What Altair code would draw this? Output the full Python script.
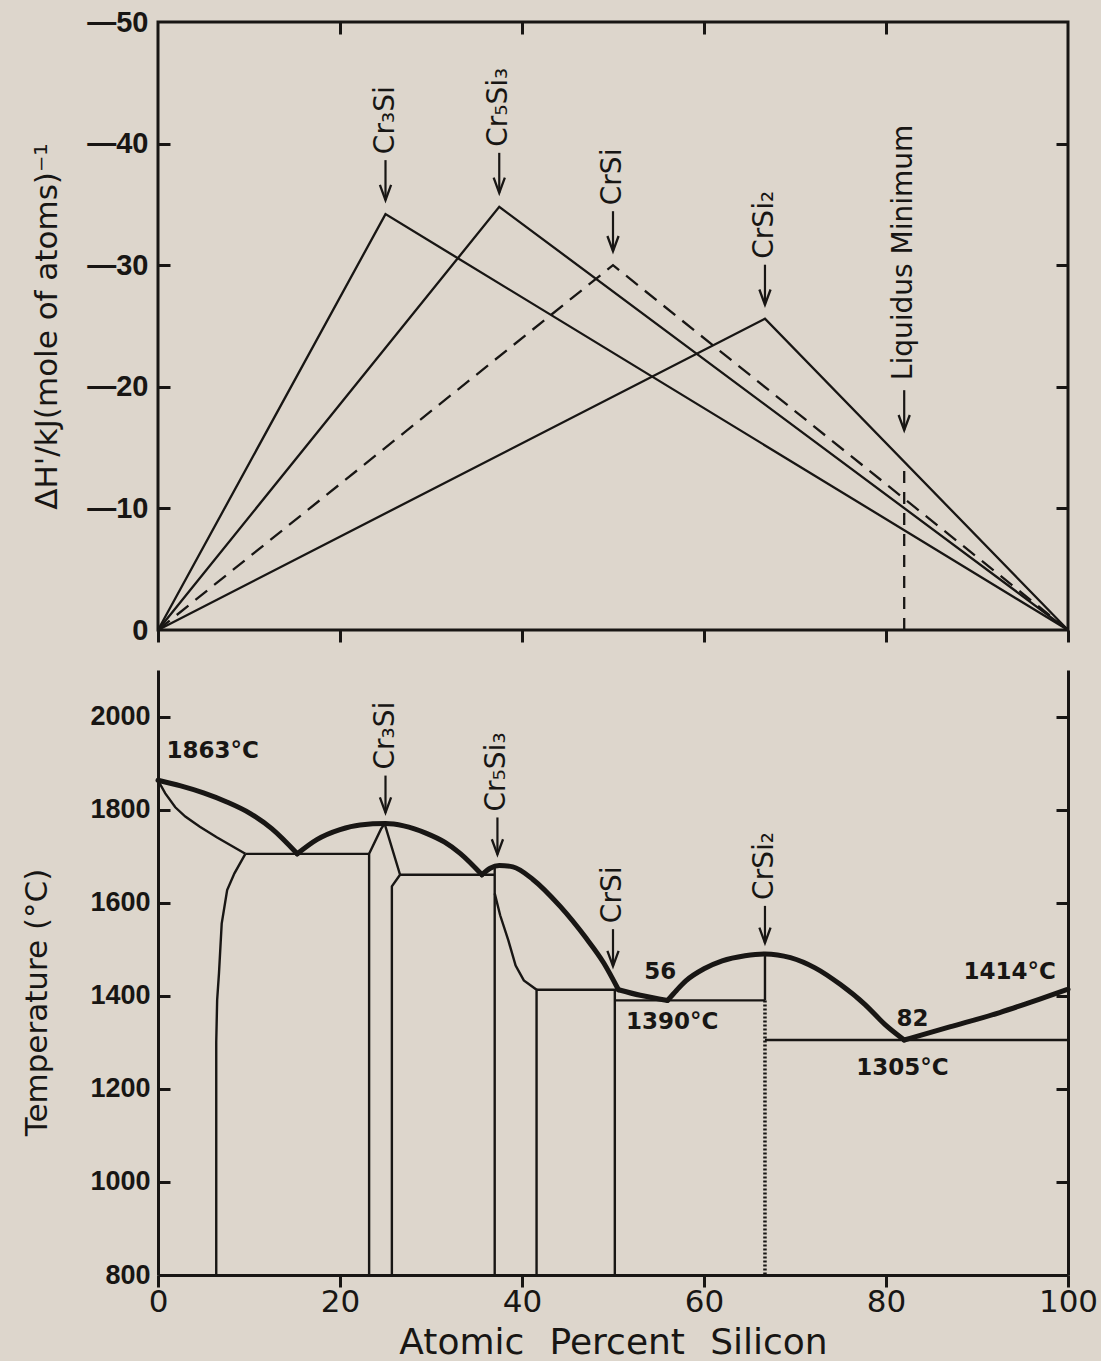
import altair as alt
import pandas as pd

INK = "#181614"
PAPER = "#ddd6cc"
TICK = 12

# ---------------- upper panel: enthalpy of formation ----------------
compounds = ["Cr₃Si", "Cr₅Si₃", "CrSi", "CrSi₂"]
compound_si = [25.0, 37.5, 50.0, 66.7]          # at.% Si
formation_dh = [-34.2, -34.8, -30.0, -25.6]     # kJ per mole of atoms
compound_dashed = [False, False, True, False]
liquidus_min_si = 82.0
liquidus_min_dh = -13.8
dh_ticks = [-50, -40, -30, -20, -10, 0]
dh_inner_ticks = [-40, -30, -20, -10]

# ---------------- lower panel: Cr-Si phase diagram ----------------
si_ticks = [0, 20, 40, 60, 80, 100]
si_inner_ticks = [20, 40, 60, 80]
temp_ticks = [800, 1000, 1200, 1400, 1600, 1800, 2000]
temp_inner_ticks = [1000, 1200, 1400, 1600, 1800, 2000]

liquidus_arcs = [
    ([0, 2.5, 5, 7.5, 10.2, 12.5, 15.3],
     [1863, 1851, 1836, 1817, 1791, 1759, 1705]),
    ([15.3, 17.5, 20, 22.2, 25, 27, 29.5, 31.5, 33.2, 35.6],
     [1705, 1736, 1757, 1767, 1770, 1765, 1749, 1730, 1706, 1660]),
    ([35.6, 36.5, 37.5, 39, 41.2, 44.2, 47, 49, 50.6],
     [1660, 1674, 1680, 1677, 1650, 1592, 1525, 1470, 1413]),
    ([50.6, 53, 56], [1413, 1401, 1390]),
    ([56, 57, 58, 60, 62, 64.5, 66.7, 69.5, 72.2, 75, 77.7, 79.9, 82],
     [1390, 1412, 1432, 1458, 1475, 1486, 1490, 1482, 1460, 1424, 1381, 1338, 1305]),
    ([82, 87, 92.5, 96.9, 100], [1305, 1333, 1364, 1393, 1414]),
]

phase_boundaries = [
    ([0, 0.8, 1.9, 3.0, 4.6, 6.5, 9.6], [1863, 1835, 1805, 1785, 1763, 1740, 1705]),
    ([9.6, 8.4, 7.6, 7.0, 6.7, 6.5, 6.4, 6.4], [1705, 1663, 1627, 1555, 1448, 1391, 1300, 800]),
    ([9.6, 23.2], [1705, 1705]),
    ([23.2, 23.2, 24.5, 24.9], [800, 1705, 1758, 1770]),
    ([24.9, 26.6, 25.7, 25.7], [1770, 1660, 1635, 800]),
    ([26.6, 37.0], [1660, 1660]),
    ([37.0, 37.0], [1678, 800]),
    ([37.0, 37.6, 38.5, 39.3, 40.2, 41.6, 41.6], [1620, 1573, 1519, 1465, 1433, 1413, 800]),
    ([41.6, 50.6], [1413, 1413]),
    ([50.2, 50.2], [1413, 800]),
    ([50.2, 66.7], [1390, 1390]),
    ([66.7, 66.7], [1490, 1390]),
    ([66.7, 100], [1305, 1305]),
]
crsi2_dotted = ([66.7, 66.7], [1390, 800])

phase_marks = ["Cr₃Si", "Cr₅Si₃", "CrSi", "CrSi₂"]
phase_mark_si = [25.0, 37.3, 50.0, 66.7]
phase_mark_t = [1770, 1680, 1440, 1490]

point_labels = ["1863°C", "56", "1390°C", "82", "1305°C", "1414°C"]
point_label_si = [6.0, 55.2, 56.5, 82.9, 81.8, 93.6]
point_label_t = [1925, 1452, 1344, 1350, 1245, 1452]


def polylines(lines):
    rows = []
    for k, (xs, ys) in enumerate(lines):
        for i, (x, y) in enumerate(zip(xs, ys)):
            rows.append({"seg": k, "i": i, "si": x, "v": y})
    return pd.DataFrame(rows)


top_rows = []
for name, si, dh, dashed in zip(compounds, compound_si, formation_dh, compound_dashed):
    for i, (x, y) in enumerate([(0, 0), (si, dh), (100, 0)]):
        top_rows.append({"seg": name, "i": i, "si": x, "v": y, "dashed": dashed})
top_df = pd.DataFrame(top_rows)
solid_df = top_df[~top_df["dashed"]]
dashed_df = top_df[top_df["dashed"]]
liqmin_df = pd.DataFrame({"si": [liquidus_min_si, liquidus_min_si],
                          "v": [0, liquidus_min_dh], "i": [0, 1]})
peaks_df = pd.DataFrame({"name": compounds, "si": compound_si, "v": formation_dh})
liqmin_label_df = pd.DataFrame({"name": ["Liquidus Minimum"], "si": [liquidus_min_si],
                                "v": [liquidus_min_dh]})

liq_df = polylines(liquidus_arcs)
bnd_df = polylines(phase_boundaries)
dot_df = polylines([crsi2_dotted])
marks_df = pd.DataFrame({"name": phase_marks, "si": phase_mark_si, "v": phase_mark_t})
notes_df = pd.DataFrame({"label": point_labels, "si": point_label_si, "v": point_label_t})

x_scale = alt.Scale(domain=[0, 100], nice=False, zero=False)
dh_scale = alt.Scale(domain=[-50, 0], reverse=True, nice=False, zero=False)
t_scale = alt.Scale(domain=[800, 2100], nice=False, zero=False)

ARROW_HEAD = "M-0.7,-1.9L0,0L0.7,-1.9"


def inner_ticks(orient, values):
    # ticks drawn on the inside of the frame
    return alt.Axis(orient=orient, offset=-TICK, values=values, tickSize=TICK, tickWidth=3,
                    domain=False, labels=False, title=None, grid=False)


def frame_line(orient):
    return alt.Axis(orient=orient, domain=True, domainWidth=3, ticks=False, labels=False,
                    title=None, grid=False)


def pointer(df, scale, tip, tail, text_gap, font_size=28):
    base = alt.Chart(df).encode(
        x=alt.X("si:Q", scale=x_scale, axis=None),
        y=alt.Y("v:Q", scale=scale, axis=None),
    )
    shaft = base.mark_rule(color=INK, strokeWidth=2.2, yOffset=tip, y2Offset=tail).encode(y2="v:Q")
    head = base.mark_point(shape=ARROW_HEAD, size=256, filled=False, color=INK, opacity=1,
                           strokeWidth=2.3, strokeJoin="miter", yOffset=tip)
    label = base.mark_text(angle=270, align="left", baseline="middle", dx=text_gap,
                           font="DejaVu Sans", fontSize=font_size, color=INK).encode(text="name:N")
    return [shaft, head, label]


# ---------------- upper panel ----------------
solid = alt.Chart(solid_df).mark_line(color=INK, strokeWidth=2.3).encode(
    x=alt.X("si:Q", scale=x_scale,
            axis=alt.Axis(orient="bottom", values=si_ticks, labels=False, domain=False,
                          tickSize=TICK, tickWidth=3, title=None)),
    y=alt.Y("v:Q", scale=dh_scale,
            axis=alt.Axis(orient="left", values=dh_ticks, ticks=False, domain=False,
                          labelPadding=10, labelFontSize=29,
                          labelExpr="datum.value < 0 ? '\u2014' + format(-datum.value, 'd') : datum.label",
                          title="ΔH'/kJ(mole of atoms)⁻¹", titlePadding=23)),
    detail="seg:N", order="i:Q",
)
dashed = alt.Chart(dashed_df).mark_line(color=INK, strokeWidth=2.3, strokeDash=[15, 9]).encode(
    x=alt.X("si:Q", scale=x_scale, axis=inner_ticks("top", si_inner_ticks)),
    y=alt.Y("v:Q", scale=dh_scale, axis=inner_ticks("left", dh_inner_ticks)),
    order="i:Q",
)
liqmin = alt.Chart(liqmin_df).mark_line(color=INK, strokeWidth=2.3, strokeDash=[12, 9]).encode(
    x=alt.X("si:Q", scale=x_scale, axis=None),
    y=alt.Y("v:Q", scale=dh_scale, axis=inner_ticks("right", dh_inner_ticks)),
    order="i:Q",
)

top = alt.layer(
    solid, dashed, liqmin,
    *pointer(peaks_df, dh_scale, -14, -54, 60),
    *pointer(liqmin_label_df, dh_scale, -32, -72, 82),
).resolve_axis(x="independent", y="independent").properties(
    width=910, height=608, view=alt.ViewBackground(stroke=INK, strokeWidth=3)
)

# ---------------- lower panel ----------------
liq = alt.Chart(liq_df).mark_line(color=INK, strokeWidth=5, strokeCap="round", strokeJoin="round",
                                  interpolate="monotone").encode(
    x=alt.X("si:Q", scale=x_scale,
            axis=alt.Axis(orient="bottom", values=si_ticks, domain=True, domainWidth=3,
                          tickSize=TICK, tickWidth=3, labelFont="DejaVu Sans",
                          labelFontWeight="normal", labelFontSize=31, labelPadding=0,
                          title="Atomic\u2002\u2009Percent\u2002\u2009Silicon",
                          titleFontSize=36, titlePadding=8)),
    y=alt.Y("v:Q", scale=t_scale,
            axis=alt.Axis(orient="left", values=temp_ticks, format="d", domain=True,
                          domainWidth=3, ticks=False, labelPadding=8,
                          title="Temperature (°C)", titlePadding=36, titleY=332)),
    detail="seg:N", order="i:Q",
)
bnd = alt.Chart(bnd_df).mark_line(color=INK, strokeWidth=2.4, strokeJoin="miter").encode(
    x=alt.X("si:Q", scale=x_scale, axis=None),
    y=alt.Y("v:Q", scale=t_scale, axis=inner_ticks("left", temp_inner_ticks)),
    detail="seg:N", order="i:Q",
)
dotted = alt.Chart(dot_df).mark_line(color=INK, strokeWidth=3.5, strokeDash=[2, 2]).encode(
    x=alt.X("si:Q", scale=x_scale, axis=None),
    y=alt.Y("v:Q", scale=t_scale, axis=frame_line("right")),
    order="i:Q",
)
notes = alt.Chart(notes_df).mark_text(font="DejaVu Sans", fontWeight="bold", fontSize=23,
                                      color=INK).encode(
    x=alt.X("si:Q", scale=x_scale, axis=None),
    y=alt.Y("v:Q", scale=t_scale, axis=inner_ticks("right", temp_inner_ticks)),
    text="label:N",
)

bottom = alt.layer(
    liq, bnd, dotted, notes,
    *pointer(marks_df, t_scale, -11, -48, 54),
).resolve_axis(x="independent", y="independent").properties(width=910, height=605)

chart = alt.vconcat(top, bottom, spacing=22).properties(
    background=PAPER,
    padding={"left": 21, "top": 6, "right": 2, "bottom": 0},
).configure_view(stroke="transparent").configure_axis(
    grid=False,
    labelFlush=False,
    labelOverlap=False,
    labelFont="Liberation Sans",
    labelFontWeight="bold",
    labelFontSize=27,
    labelColor=INK,
    titleFont="DejaVu Sans",
    titleFontWeight="normal",
    titleFontSize=31,
    titleColor=INK,
    domainColor=INK,
    tickColor=INK,
    domainWidth=3,
    tickWidth=3,
)

chart.save("out.html", embed_options={"renderer": "svg", "actions": False})
